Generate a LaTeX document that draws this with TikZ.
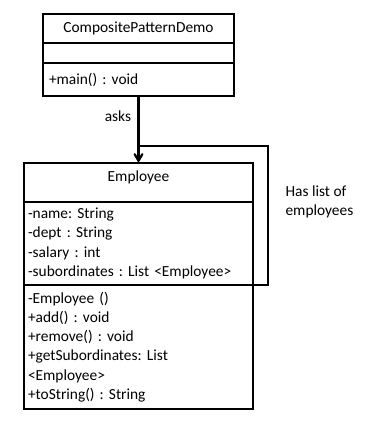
\documentclass[tikz,border=0pt]{standalone}
\usepackage{fontspec}
\setmainfont{Carlito}
\usepackage{tikz}
\usetikzlibrary{arrows,calc}
\frenchspacing

\begin{document}
\begin{tikzpicture}[x=1pt, y=-1pt,
    every node/.style={font=\fontsize{15.4}{19.2}\selectfont},
    part/.style={draw, line width=2.7pt, anchor=north west, inner sep=0pt, outer sep=0pt},
    demopart/.style={part, minimum width=191pt},
    emppart/.style={part, minimum width=229pt},
    members/.style={align=left, inner xsep=4pt}]
    \useasboundingbox (0,0) rectangle (388,428);

    % CompositePatternDemo class
    \node[demopart, minimum height=29pt] (demotitle) at (43,14) {CompositePatternDemo};
    \node[demopart, minimum height=20pt] (demoattr) at (43,43) {};
    \node[demopart, minimum height=33pt, members, inner xsep=6pt, text width=179pt] (demomethods) at (43,63) {+main() : void};

    % Employee class
    \node[emppart, minimum height=39pt, text height=18pt, text depth=21pt] (emptitle) at (24,163) {Employee};
    \node[emppart, minimum height=83pt, members, text width=221pt] (empattr) at (24,202)
        {-name: String\\-dept : String\\-salary : int\\-subordinates : List <Employee>};
    \node[emppart, minimum height=124pt, members, text width=221pt] (empmethods) at (24,285)
        {-Employee ()\\+add() : void\\+remove() : void\\+getSubordinates: List\\<Employee>\\+toString() : String};

    % asks
    \draw[line width=2.2pt, arrows={-angle 60}] (demomethods.south) -- (emptitle.north)
        node[pos=0.3, left=3pt] (asks) {asks};
    \coordinate (join) at ($(demomethods.south)!0.75!(emptitle.north)$);

    % has list of employees
    \draw[line width=2.2pt] (empattr.south east) -- ++(15,0) |- (join);
    \node[anchor=west, align=left] (haslist) at (282,202) {Has list of\\employees};
\end{tikzpicture}
\end{document}
